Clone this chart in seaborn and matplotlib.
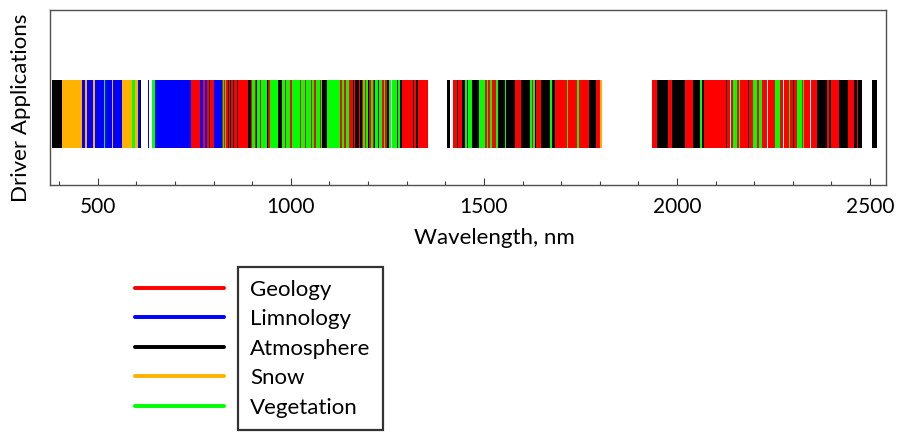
import matplotlib
matplotlib.use("Agg")
import matplotlib.pyplot as plt
from matplotlib.lines import Line2D
import seaborn as sns

# wavelength bands (nm) per driver application
geology = [(741, 764), (772, 778), (782, 800), (821, 834), (834, 889),
           (896, 900), (907, 910), (919, 922), (942, 945), (984, 987), (999, 1002),
           (1024, 1027), (1037, 1040), (1051, 1054), (1061, 1066), (1075, 1079),
           (1127, 1133), (1137, 1142), (1150, 1160), (1163, 1186), (1191, 1195),
           (1203, 1207), (1212, 1216), (1235, 1241), (1245, 1250), (1288, 1355),
           (1419, 1442), (1502, 1507), (1511, 1516), (1520, 1532), (1580, 1597),
           (1624, 1628), (1636, 1649), (1684, 1715), (1718, 1740), (1746, 1772),
           (1790, 1802), (1935, 1948), (1976, 1987), (2020, 2041), (2065, 2137),
           (2140, 2145), (2155, 2197), (2207, 2212), (2220, 2233), (2236, 2253),
           (2266, 2275), (2278, 2290), (2293, 2310), (2323, 2345), (2348, 2362),
           (2390, 2421), (2442, 2460), (2466, 2470)]
limnology = [(458, 467), (472, 488), (492, 515), (518, 537), (539, 546), (548, 554),
             (556, 563), (603, 608), (629, 633), (647, 741), (764, 772), (778, 782),
             (800, 821)]
atmosphere = [(380, 407), (608, 613), (789, 791), (836, 839), (843, 846), (850, 852),
              (860, 862), (889, 896), (910, 913), (938, 942), (966, 977), (1080, 1093),
              (1160, 1163), (1166, 1170), (1172, 1176), (1179, 1183), (1200, 1203),
              (1216, 1219), (1226, 1229), (1250, 1253), (1274, 1277), (1282, 1288),
              (1316, 1320), (1325, 1329), (1404, 1411), (1431, 1433), (1442, 1452),
              (1455, 1459), (1468, 1487), (1536, 1554), (1558, 1580), (1597, 1619),
              (1632, 1636), (1649, 1671), (1676, 1684), (1772, 1790), (1948, 1976),
              (1987, 2020), (2041, 2059), (2066, 2069), (2128, 2131), (2170, 2172),
              (2185, 2187), (2300, 2303), (2362, 2390), (2395, 2398), (2421, 2442),
              (2460, 2466), (2470, 2479), (2505, 2518)]
snow = [(407, 458), (467, 472), (488, 492), (537, 539), (546, 548), (554, 556),
        (563, 588), (596, 603), (1802, 1805)]
vegetation = [(515, 518), (588, 596), (640, 647), (823, 826), (829, 831),
              (900, 907), (913, 919), (922, 938), (945, 966), (977, 984), (987, 999),
              (1002, 1024), (1027, 1037), (1040, 1051), (1054, 1061), (1066, 1075),
              (1079, 1080), (1093, 1127), (1133, 1137), (1142, 1150), (1186, 1191),
              (1195, 1200), (1207, 1212), (1219, 1226), (1229, 1235), (1241, 1245),
              (1253, 1259), (1261, 1274), (1277, 1282), (1452, 1455), (1459, 1468),
              (1487, 1502), (1507, 1511), (1516, 1520), (1532, 1536), (1554, 1558),
              (1619, 1624), (1628, 1632), (1671, 1676), (1715, 1718), (1740, 1746),
              (2061, 2065), (2145, 2155), (2160, 2163), (2197, 2207), (2212, 2220),
              (2253, 2266), (2290, 2293), (2310, 2323), (2327, 2330)]

labels = ["Geology", "Limnology", "Atmosphere", "Snow", "Vegetation"]
colors = {"Geology": "#FF0000", "Limnology": "#0000FF", "Atmosphere": "#000000",
          "Snow": "#FFB300", "Vegetation": "#00FF00"}

sns.set_theme(style="white")
plt.rcParams["font.family"] = ["Lato", "DejaVu Sans"]
plt.rcParams["text.color"] = "black"
plt.rcParams["axes.labelcolor"] = "black"

fig = plt.figure(figsize=(9.02, 4.34), dpi=100)
ax = fig.add_axes([0.055, 0.574, 0.927, 0.403])

# draw order: overlays last
order = [("Limnology", limnology), ("Snow", snow), ("Geology", geology),
         ("Vegetation", vegetation), ("Atmosphere", atmosphere)]
for name, bands in order:
    ax.broken_barh([(s, e - s) for s, e in bands], (0.21, 0.39),
                   facecolors=colors[name], edgecolor="none", linewidth=0)

ax.set_xlim(375, 2541)
ax.set_ylim(0, 1)
ax.set_yticks([])
ax.set_xticks(range(500, 2501, 500))
ax.set_xticks(range(400, 2501, 100), minor=True)
ax.tick_params(axis="x", which="both", direction="in", bottom=True, top=False,
               labelsize=15, pad=9, colors="#404040", labelcolor="black")
ax.tick_params(axis="x", which="major", length=5, width=0.8)
ax.tick_params(axis="x", which="minor", length=3, width=0.8)
for sp in ax.spines.values():
    sp.set_color("#505050")
    sp.set_linewidth(1.0)

ax.set_xlabel("Wavelength, nm", fontsize=16)
ax.xaxis.set_label_coords(0.532, -0.245)
ax.set_ylabel("Driver Applications", fontsize=16)
ax.yaxis.set_label_coords(-0.022, 0.44)

# legend: coloured lines outside a framed text box
fs = 16
handles = [Line2D([0], [0], color=colors[l], lw=2.6) for l in labels]
leg_lines = fig.legend(handles, [" "] * len(labels), loc="upper left",
                       bbox_to_anchor=(0.136, 0.384), frameon=False,
                       fontsize=fs, handlelength=4.0, handletextpad=0.0,
                       labelspacing=0.43, borderpad=0.55, borderaxespad=0)
blank = [Line2D([0], [0], color="none") for l in labels]
leg_text = fig.legend(blank, labels, loc="upper left",
                      bbox_to_anchor=(0.264, 0.384), frameon=True, fancybox=False,
                      fontsize=fs, handlelength=0, handletextpad=0.0,
                      labelspacing=0.43, borderpad=0.55, borderaxespad=0,
                      edgecolor="black")
leg_text.get_frame().set_linewidth(1.6)
fig.add_artist(leg_lines)

fig.savefig("out.png", dpi=100)
